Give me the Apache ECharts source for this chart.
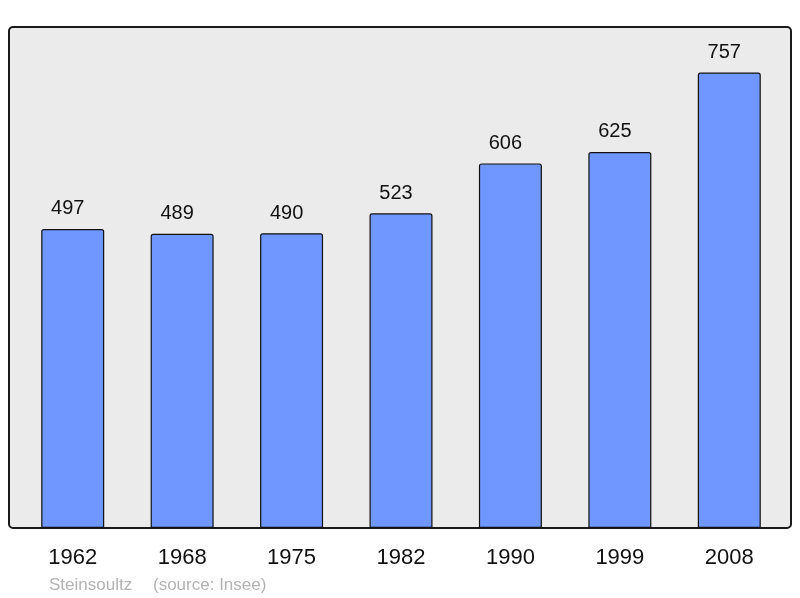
<!DOCTYPE html>
<html><head><meta charset="utf-8">
<script src="https://cdn.jsdelivr.net/npm/echarts@6/dist/echarts.min.js"></script>
<style>html,body{margin:0;padding:0;background:#fff}#c{width:800px;height:598px}</style>
</head><body><div id="c"></div>
<script>
const years = ['1962','1968','1975','1982','1990','1999','2008'];
const population = [497, 489, 490, 523, 606, 625, 757];
const yMax = 832.7;

const chart = echarts.init(document.getElementById('c'), null, {renderer:'canvas'});
chart.setOption({
  animation: false,
  backgroundColor: '#ffffff',
  grid: {left: 18, right: 16, top: 27, bottom: 70},
  graphic: [
    {type:'rect', z: -10, shape:{x:9, y:27, width:782, height:501, r:4},
     style:{fill:'#ebebeb', stroke:'#1a1a1a', lineWidth:2}},
    {type:'text', left: 49, top: 577, z: 10,
     style:{text:'Steinsoultz', fill:'#b3b3b3', font:'17px "Liberation Sans", Arial, sans-serif'}},
    {type:'text', left: 153, top: 577, z: 10,
     style:{text:'(source: Insee)', fill:'#b3b3b3', font:'17px "Liberation Sans", Arial, sans-serif'}}
  ],
  xAxis: {
    type: 'category', data: years,
    axisLine: {show:false}, axisTick: {show:false},
    axisLabel: {color:'#111', fontSize: 22, margin: 19, fontFamily:'"Liberation Sans", Arial, sans-serif'}
  },
  yAxis: {type:'value', min:0, max:yMax, show:false, splitLine:{show:false}},
  series: [{
    type:'bar', data: population, barWidth: 63,
    itemStyle: {color:'#7096ff', borderColor:'#111', borderWidth:1.2, borderRadius:[2,2,0,0]},
    label: {show:true, position:'top', distance: 10, offset:[-5,0], color:'#111', fontSize: 20,
            fontFamily:'"Liberation Sans", Arial, sans-serif'}
  }]
});
</script></body></html>
